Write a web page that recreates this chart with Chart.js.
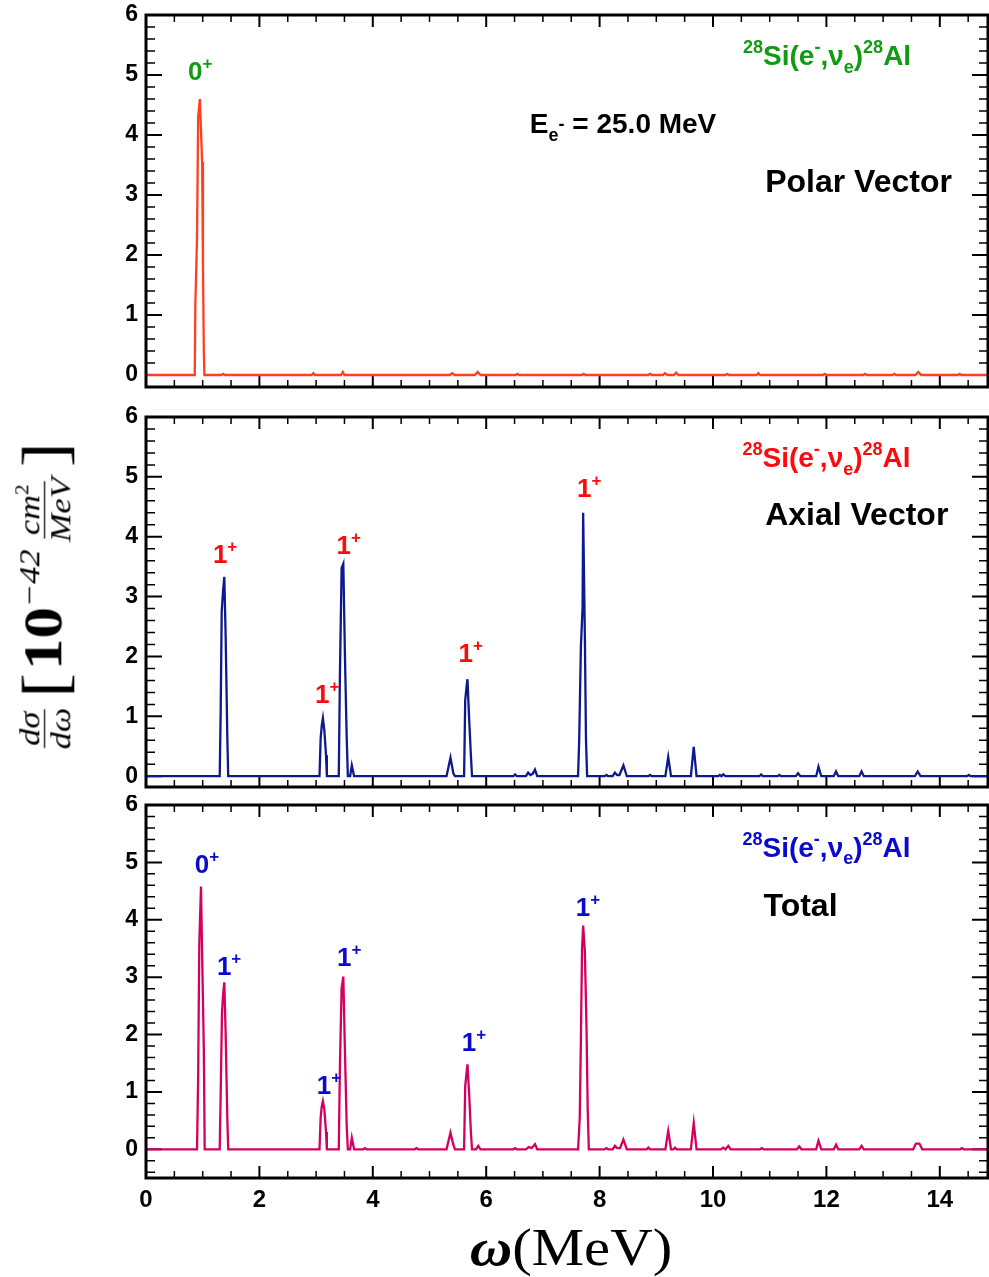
<!DOCTYPE html>
<html>
<head>
<meta charset="utf-8">
<script src="https://cdn.jsdelivr.net/npm/chart.js@4.4.1/dist/chart.umd.min.js"></script>
<style>
  body { margin: 0; background: #fff; }
  #wrap { position: relative; width: 989px; height: 1277px; overflow: hidden; background: #fff; }
  canvas { position: absolute; left: 0; }
  #ytitle, #xtitle {
    position: absolute; white-space: nowrap; color: #000;
    font-family: "Liberation Serif", "DejaVu Serif", serif;
    display: flex; align-items: center; line-height: 1;
  }
  .frac { display: inline-flex; flex-direction: column; align-items: center; margin: 0 3px; }
  .frac > span { padding: 0 2px; }
  .frac > span:first-child { border-bottom: 1.5px solid #000; }
  .br { font-size: 52px; font-weight: normal; margin: 0 2px; }
  .ten { font-size: 44px; font-weight: bold; }
  .exp { font-size: 24px; font-style: italic; align-self: flex-start; margin-top: 2px; }
</style>
</head>
<body>
<div id="wrap">
  <canvas id="polar" width="989" height="400" style="top:0"></canvas>
  <canvas id="axial" width="989" height="395" style="top:400px"></canvas>
  <canvas id="total" width="989" height="482" style="top:795px"></canvas>

  <div id="ytitle">
    <span class="frac" style="font-size:24px;font-style:italic"><span>dσ</span><span>dω</span></span>
    <span class="br">[</span>
    <span class="ten">10</span><span class="exp">−42</span>
    <span class="frac" style="font-size:24px;font-style:italic"><span>cm<sup style="font-size:15px;font-style:normal">2</sup></span><span>MeV</span></span>
    <span class="br">]</span>
  </div>
  <div id="xtitle"><span style="font-style:italic;font-weight:bold">ω</span><span>(MeV)</span></div>
</div>

<script>
// Data (omega in MeV, dsigma/domega in 1e-42 cm^2/MeV)
const polarX = [0, 0.86, 0.87, 0.90, 0.92, 0.95, 0.99, 1.005, 1.02, 1.03,
  1.33, 1.36, 1.39, 2.92, 2.95, 2.98, 3.44, 3.47, 3.50, 5.36, 5.40, 5.44,
  5.80, 5.85, 5.90, 6.52, 6.55, 6.58, 7.69, 7.72, 7.75, 8.86, 8.89, 8.92,
  9.12, 9.15, 9.20, 9.31, 9.35, 9.39, 10.22, 10.25, 10.28, 10.77, 10.80, 10.83,
  11.94, 11.97, 12.00, 12.65, 12.68, 12.71, 13.17, 13.20, 13.23, 13.57, 13.62, 13.67,
  14.32, 14.35, 14.38, 14.85];
const polarY = [0, 0, 1.15, 2.3, 4.3, 4.6, 3.55, 1.8, 0.4, 0,
  0, 0.02, 0, 0, 0.03, 0, 0, 0.05, 0, 0, 0.03, 0,
  0, 0.05, 0, 0, 0.02, 0, 0, 0.02, 0, 0, 0.02, 0,
  0, 0.03, 0, 0, 0.04, 0, 0, 0.02, 0, 0, 0.03, 0,
  0, 0.02, 0, 0, 0.02, 0, 0, 0.02, 0, 0, 0.05, 0,
  0, 0.02, 0, 0];

const axialX = [0, 1.30, 1.317, 1.335, 1.36, 1.381, 1.405, 1.434, 1.45,
  3.06, 3.08, 3.10, 3.12, 3.145, 3.175, 3.19,
  3.40, 3.42, 3.45, 3.48, 3.51, 3.54, 3.56, 3.60, 3.63, 3.67,
  5.30, 5.37, 5.42, 5.45,
  5.61, 5.63, 5.66, 5.67, 5.70, 5.73, 5.75,
  6.48, 6.51, 6.54, 6.70, 6.74, 6.78, 6.82, 6.86, 6.90,
  7.62, 7.64, 7.67, 7.70, 7.71, 7.74, 7.76, 7.78,
  8.09, 8.12, 8.15, 8.23, 8.27, 8.31, 8.35, 8.42, 8.48,
  8.86, 8.89, 8.92, 9.16, 9.21, 9.26, 9.61, 9.66, 9.71,
  10.09, 10.12, 10.15, 10.18, 10.22, 10.82, 10.85, 10.88,
  11.14, 11.17, 11.20, 11.46, 11.50, 11.54, 11.82, 11.86, 11.91,
  12.13, 12.17, 12.21, 12.58, 12.62, 12.66, 13.56, 13.61, 13.66,
  14.48, 14.51, 14.54, 14.85];
const axialY = [0, 0, 1.07, 2.75, 3.1, 3.33, 2.33, 0.66, 0,
  0, 0.63, 0.85, 0.97, 0.77, 0.35, 0,
  0, 1.69, 3.48, 3.55, 1.94, 0.63, 0, 0, 0.18, 0,
  0, 0.31, 0.05, 0,
  0, 1.27, 1.55, 1.62, 0.94, 0.35, 0,
  0, 0.03, 0, 0, 0.06, 0.02, 0.04, 0.11, 0,
  0, 0.6, 2.16, 2.83, 4.40, 2.33, 0.6, 0,
  0, 0.02, 0, 0, 0.06, 0.02, 0.02, 0.18, 0,
  0, 0.02, 0, 0, 0.32, 0, 0, 0.49, 0,
  0, 0.02, 0, 0.03, 0, 0, 0.03, 0,
  0, 0.02, 0, 0, 0.05, 0, 0, 0.16, 0,
  0, 0.08, 0, 0, 0.08, 0, 0, 0.08, 0,
  0, 0.02, 0, 0];

const totalX = [0, 0.90, 0.92, 0.94, 0.97, 0.99, 1.02, 1.035,
  1.30, 1.317, 1.34, 1.36, 1.381, 1.405, 1.434, 1.45,
  3.06, 3.08, 3.10, 3.12, 3.145, 3.175, 3.19,
  3.40, 3.42, 3.45, 3.48, 3.51, 3.54, 3.56, 3.60, 3.63, 3.67,
  3.83, 3.86, 3.89, 4.74, 4.77, 4.80,
  5.30, 5.37, 5.42, 5.45,
  5.61, 5.63, 5.66, 5.67, 5.70, 5.73, 5.75, 5.82, 5.86, 5.90,
  6.48, 6.51, 6.54, 6.70, 6.75, 6.80, 6.86, 6.90,
  7.62, 7.65, 7.67, 7.69, 7.71, 7.74, 7.77, 7.79, 7.81,
  8.09, 8.12, 8.15, 8.23, 8.27, 8.31, 8.36, 8.42, 8.48,
  8.83, 8.86, 8.89, 9.16, 9.21, 9.26, 9.30, 9.33, 9.36, 9.61, 9.66, 9.71,
  10.14, 10.18, 10.22, 10.27, 10.31, 10.83, 10.86, 10.89,
  11.48, 11.52, 11.56, 11.82, 11.86, 11.91, 12.13, 12.17, 12.21,
  12.58, 12.62, 12.66, 13.53, 13.58, 13.64, 13.69, 14.36, 14.39, 14.42, 14.85];
const totalY = [0, 0, 1.27, 3.6, 4.58, 3.39, 1.74, 0,
  0, 0.96, 2.38, 2.7, 2.91, 2.0, 0.55, 0,
  0, 0.55, 0.75, 0.84, 0.70, 0.3, 0,
  0, 1.45, 2.81, 3.01, 1.65, 0.4, 0, 0, 0.2, 0,
  0, 0.02, 0, 0, 0.02, 0,
  0, 0.29, 0.08, 0,
  0, 1.1, 1.4, 1.48, 0.95, 0.3, 0, 0, 0.06, 0,
  0, 0.02, 0, 0, 0.04, 0.02, 0.09, 0,
  0, 0.55, 1.91, 3.48, 3.9, 3.45, 2.06, 0.7, 0,
  0, 0.02, 0, 0, 0.06, 0.02, 0.02, 0.17, 0,
  0, 0.03, 0, 0, 0.32, 0, 0, 0.03, 0, 0, 0.46, 0,
  0, 0.03, 0, 0.06, 0, 0, 0.02, 0,
  0, 0.05, 0, 0, 0.15, 0, 0, 0.08, 0,
  0, 0.06, 0, 0, 0.1, 0.1, 0, 0, 0.02, 0, 0];

const xTicks = [0, 2, 4, 6, 8, 10, 12, 14];
const yTicks = [0, 1, 2, 3, 4, 5, 6];

// Text labels: [x, y] in data units, segments of [text, mode]
const reaction = [['28', 'sup'], ['Si(e', 'n'], ['-', 'sup'], [',', 'n'], ['ν', 'n'], ['e', 'sub'], [')', 'n'], ['28', 'sup'], ['Al', 'n']];
const zeroPlus = [['0', 'n'], ['+', 'sup']];
const onePlus = [['1', 'n'], ['+', 'sup']];

const polarLabels = [
  { x: 0.74, y: 4.92, segs: zeroPlus, size: 26, color: '#119b11' },
  { x: 10.53, y: 5.17, segs: reaction, size: 28, color: '#119b11' },
  { x: 6.77, y: 4.03, segs: [['E', 'n'], ['e', 'sub'], ['-', 'mid'], [' = 25.0 MeV', 'n']], size: 28, color: '#000' },
  { x: 10.92, y: 3.05, segs: [['Polar Vector', 'n']], size: 32, color: '#000' }
];
const axialLabels = [
  { x: 10.52, y: 5.17, segs: reaction, size: 28, color: '#ff0a0a' },
  { x: 10.92, y: 4.2, segs: [['Axial Vector', 'n']], size: 32, color: '#000' },
  { x: 1.18, y: 3.56, segs: onePlus, size: 26, color: '#ff0a0a' },
  { x: 2.98, y: 1.22, segs: onePlus, size: 26, color: '#ff0a0a' },
  { x: 3.36, y: 3.72, segs: onePlus, size: 26, color: '#ff0a0a' },
  { x: 5.51, y: 1.91, segs: onePlus, size: 26, color: '#ff0a0a' },
  { x: 7.60, y: 4.67, segs: onePlus, size: 26, color: '#ff0a0a' }
];
const totalLabels = [
  { x: 10.52, y: 5.10, segs: reaction, size: 28, color: '#0a0acc' },
  { x: 10.89, y: 4.07, segs: [['Total', 'n']], size: 32, color: '#000' },
  { x: 0.86, y: 4.81, segs: zeroPlus, size: 26, color: '#0a0acc' },
  { x: 1.25, y: 3.04, segs: onePlus, size: 26, color: '#0a0acc' },
  { x: 3.01, y: 0.97, segs: onePlus, size: 26, color: '#0a0acc' },
  { x: 3.37, y: 3.19, segs: onePlus, size: 26, color: '#0a0acc' },
  { x: 5.57, y: 1.71, segs: onePlus, size: 26, color: '#0a0acc' },
  { x: 7.58, y: 4.07, segs: onePlus, size: 26, color: '#0a0acc' }
];

const FONT = '"Liberation Sans", Arial, Helvetica, sans-serif';

function toPoints(xs, ys) {
  if (xs.length !== ys.length) throw new Error('length mismatch ' + xs.length + ' ' + ys.length);
  return xs.map((x, i) => ({ x: x, y: ys[i] }));
}

function drawRich(ctx, x, y, segs, size, color) {
  const small = Math.round(size * 0.64);
  let cx = x;
  ctx.fillStyle = color;
  ctx.textBaseline = 'alphabetic';
  ctx.textAlign = 'left';
  segs.forEach(([t, mode]) => {
    const fs = mode === 'n' ? size : small;
    let dy = 0;
    if (mode === 'sup') dy = -size * 0.42;
    if (mode === 'sub') dy = size * 0.28;
    if (mode === 'mid') dy = -size * 0.12;
    ctx.font = `bold ${fs}px ${FONT}`;
    ctx.fillText(t, cx, y + dy);
    cx += ctx.measureText(t).width;
  });
}

// inward ticks on all four sides, drawn under the curve like the original
const frameTicks = {
  id: 'frameTicks',
  beforeDatasetsDraw(chart) {
    const { ctx, chartArea: a, scales: { x, y } } = chart;
    ctx.save();
    ctx.strokeStyle = '#000';
    for (let v = 0; v <= x.max + 1e-9; v += 0.5) {
      const px = x.getPixelForValue(v);
      const major = Math.abs(v / 2 - Math.round(v / 2)) < 1e-6;
      const len = major ? 12 : 7;
      ctx.lineWidth = major ? 2 : 1.5;
      ctx.beginPath();
      ctx.moveTo(px, a.bottom); ctx.lineTo(px, a.bottom - len);
      ctx.moveTo(px, a.top); ctx.lineTo(px, a.top + len);
      ctx.stroke();
    }
    const start = Math.ceil(y.min / 0.2 - 1e-6);
    for (let k = start; k * 0.2 <= y.max + 1e-9; k++) {
      const py = y.getPixelForValue(k * 0.2);
      const major = k % 5 === 0;
      const len = major ? 16 : 9;
      ctx.lineWidth = major ? 2 : 1.5;
      ctx.beginPath();
      ctx.moveTo(a.left, py); ctx.lineTo(a.left + len, py);
      ctx.moveTo(a.right, py); ctx.lineTo(a.right - len, py);
      ctx.stroke();
    }
    ctx.restore();
  },
  afterDraw(chart) {
    const { ctx, chartArea: a } = chart;
    ctx.save();
    ctx.strokeStyle = '#000';
    ctx.lineWidth = 3;
    ctx.strokeRect(a.left, a.top, a.right - a.left, a.bottom - a.top);
    ctx.restore();
  }
};

const panelText = {
  id: 'panelText',
  afterDatasetsDraw(chart, args, opts) {
    const { ctx, scales: { x, y } } = chart;
    ctx.save();
    (opts.items || []).forEach(l => {
      drawRich(ctx, x.getPixelForValue(l.x), y.getPixelForValue(l.y), l.segs, l.size, l.color);
    });
    ctx.restore();
  }
};

function makePanel(id, xs, ys, color, yMin, pad, labels, showX) {
  const ctx = document.getElementById(id).getContext('2d');
  return new Chart(ctx, {
    type: 'line',
    data: {
      datasets: [{
        data: toPoints(xs, ys),
        borderColor: color,
        borderWidth: 2.3,
        pointRadius: 0,
        tension: 0,
        fill: false
      }]
    },
    options: {
      responsive: false,
      animation: false,
      devicePixelRatio: 1,
      layout: { padding: pad },
      plugins: {
        legend: { display: false },
        tooltip: { enabled: false },
        panelText: { items: labels }
      },
      scales: {
        x: {
          type: 'linear',
          min: 0,
          max: 14.85,
          grid: { display: false, drawTicks: false },
          border: { display: false },
          afterBuildTicks: s => { s.ticks = xTicks.map(v => ({ value: v })); },
          afterFit: s => {
            s.height = showX ? 99 : 0;
            s.paddingLeft = 0;
            s.paddingRight = 0;
          },
          ticks: {
            display: showX,
            padding: 8,
            color: '#000',
            maxRotation: 0,
            font: { family: FONT, weight: 'bold', size: 24 }
          }
        },
        y: {
          min: yMin,
          max: 6,
          grid: { display: false, drawTicks: false },
          border: { display: false },
          afterBuildTicks: s => { s.ticks = yTicks.map(v => ({ value: v })); },
          afterFit: s => {
            s.width = 146;
            s.paddingTop = 0;
            s.paddingBottom = 0;
          },
          ticks: {
            padding: 8,
            color: '#000',
            font: { family: FONT, weight: 'bold', size: 23 }
          }
        }
      }
    },
    plugins: [frameTicks, panelText]
  });
}

function fitTitle(el, cx, cy, w, h, rotate) {
  const nw = el.offsetWidth, nh = el.offsetHeight;
  el.style.left = cx + 'px';
  el.style.top = cy + 'px';
  el.style.transform = `translate(-50%, -50%)${rotate ? ' rotate(-90deg)' : ''} scale(${w / nw}, ${h / nh})`;
}

makePanel('polar', polarX, polarY, '#ff4020', -0.2, { top: 15, bottom: 13, left: 0, right: 1 }, polarLabels, false);
makePanel('axial', axialX, axialY, '#0d1a8f', -0.18, { top: 17, bottom: 8, left: 0, right: 1 }, axialLabels, false);
makePanel('total', totalX, totalY, '#d4005e', -0.5, { top: 10, bottom: 0, left: 0, right: 1 }, totalLabels, true);

const xt = document.getElementById('xtitle');
xt.style.fontSize = '46px';
fitTitle(xt, 571, 1248, 202, 52, false);
fitTitle(document.getElementById('ytitle'), 44, 598, 317, 64, true);
</script>
</body>
</html>
